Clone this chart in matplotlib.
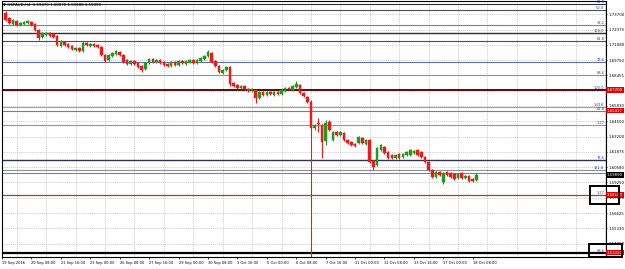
import numpy as np
import matplotlib
matplotlib.use("Agg")
import matplotlib.pyplot as plt
import matplotlib.transforms as mtransforms
from matplotlib.patches import Rectangle

# GBPAUD H4 candles (bar 0 = 19 Sep 00:00 sits off the left edge)
opens = [
    1.7381, 1.7338, 1.7287, 1.7313, 1.7278, 1.7287, 1.7296, 1.7304, 1.7287, 1.7235,
    1.7175, 1.7192, 1.7210, 1.7201, 1.7184, 1.7098, 1.7132, 1.7115, 1.7098, 1.7064,
    1.7081, 1.7055, 1.7124, 1.7098, 1.7115, 1.7107, 1.7089, 1.7021, 1.6978, 1.7012,
    1.7029, 1.7046, 1.7021, 1.6978, 1.6943, 1.6969, 1.6952, 1.6926, 1.6900, 1.6952,
    1.6986, 1.6961, 1.6978, 1.6961, 1.6943, 1.6926, 1.6961, 1.6935, 1.6969, 1.6943,
    1.6961, 1.6978, 1.6952, 1.6969, 1.6986, 1.7012, 1.7038, 1.6969, 1.6926, 1.6866,
    1.6892, 1.6918, 1.6780, 1.6763, 1.6737, 1.6754, 1.6729, 1.6711, 1.6720, 1.6651,
    1.6703, 1.6677, 1.6703, 1.6677, 1.6703, 1.6686, 1.6711, 1.6737, 1.6720, 1.6746,
    1.6763, 1.6694, 1.6660, 1.6617, 1.6394, 1.6437, 1.6419, 1.6282, 1.6445, 1.6290,
    1.6359, 1.6333, 1.6351, 1.6290, 1.6273, 1.6256, 1.6265, 1.6308, 1.6256, 1.6290,
    1.6110, 1.6076, 1.6205, 1.6230, 1.6187, 1.6162, 1.6136, 1.6170, 1.6144, 1.6162,
    1.6162, 1.6179, 1.6205, 1.6187, 1.6144, 1.6102, 1.6033, 1.5973, 1.6016, 1.5930,
    1.6016, 1.6007, 1.5998, 1.5964, 1.6007, 1.5964, 1.5981, 1.5956, 1.5947]
closes = [
    1.7321, 1.7296, 1.7321, 1.7278, 1.7296, 1.7304, 1.7313, 1.7278, 1.7235, 1.7167,
    1.7210, 1.7210, 1.7184, 1.7175, 1.7107, 1.7141, 1.7107, 1.7089, 1.7072, 1.7081,
    1.7055, 1.7124, 1.7107, 1.7115, 1.7098, 1.7089, 1.7021, 1.6969, 1.7021, 1.7038,
    1.7055, 1.7021, 1.6961, 1.6943, 1.6969, 1.6943, 1.6918, 1.6892, 1.6952, 1.6986,
    1.6961, 1.6978, 1.6952, 1.6935, 1.6926, 1.6961, 1.6935, 1.6969, 1.6952, 1.6969,
    1.6978, 1.6952, 1.6978, 1.6995, 1.7012, 1.7046, 1.6961, 1.6926, 1.6875, 1.6892,
    1.6918, 1.6772, 1.6754, 1.6737, 1.6754, 1.6729, 1.6711, 1.6729, 1.6651, 1.6703,
    1.6677, 1.6703, 1.6686, 1.6703, 1.6686, 1.6720, 1.6737, 1.6729, 1.6754, 1.6772,
    1.6694, 1.6668, 1.6617, 1.6394, 1.6419, 1.6428, 1.6273, 1.6437, 1.6376, 1.6359,
    1.6333, 1.6359, 1.6290, 1.6265, 1.6248, 1.6239, 1.6316, 1.6265, 1.6290, 1.6102,
    1.6059, 1.6222, 1.6248, 1.6179, 1.6136, 1.6136, 1.6162, 1.6136, 1.6170, 1.6187,
    1.6205, 1.6196, 1.6162, 1.6144, 1.6102, 1.6033, 1.5973, 1.6016, 1.5990, 1.6007,
    1.5990, 1.5973, 1.5956, 1.5998, 1.5964, 1.5981, 1.5938, 1.5938, 1.5989]
highs = [
    1.7399, 1.7347, 1.7330, 1.7321, 1.7304, 1.7313, 1.7321, 1.7313, 1.7296, 1.7244,
    1.7218, 1.7218, 1.7218, 1.7210, 1.7192, 1.7150, 1.7141, 1.7124, 1.7107, 1.7089,
    1.7089, 1.7141, 1.7132, 1.7124, 1.7124, 1.7115, 1.7098, 1.7029, 1.7029, 1.7046,
    1.7064, 1.7055, 1.7029, 1.6986, 1.6978, 1.6978, 1.6961, 1.6935, 1.6961, 1.6995,
    1.6995, 1.6986, 1.6986, 1.6969, 1.6952, 1.6969, 1.6969, 1.6978, 1.6978, 1.6978,
    1.6986, 1.6986, 1.6986, 1.7003, 1.7021, 1.7064, 1.7046, 1.6978, 1.6935, 1.6900,
    1.6926, 1.6926, 1.6789, 1.6772, 1.6763, 1.6763, 1.6737, 1.6737, 1.6729, 1.6711,
    1.6711, 1.6711, 1.6711, 1.6711, 1.6711, 1.6729, 1.6746, 1.6746, 1.6763, 1.6797,
    1.6772, 1.6703, 1.6668, 1.6634, 1.6428, 1.6479, 1.6428, 1.6462, 1.6462, 1.6368,
    1.6368, 1.6368, 1.6359, 1.6299, 1.6282, 1.6265, 1.6325, 1.6316, 1.6299, 1.6299,
    1.6119, 1.6230, 1.6256, 1.6239, 1.6196, 1.6170, 1.6170, 1.6179, 1.6179, 1.6196,
    1.6213, 1.6205, 1.6213, 1.6196, 1.6153, 1.6110, 1.6041, 1.6024, 1.6024, 1.6016,
    1.6024, 1.6016, 1.6007, 1.6007, 1.6016, 1.5990, 1.5990, 1.5964, 1.6007]
lows = [
    1.7313, 1.7287, 1.7278, 1.7270, 1.7270, 1.7278, 1.7287, 1.7270, 1.7227, 1.7150,
    1.7167, 1.7184, 1.7175, 1.7167, 1.7098, 1.7089, 1.7098, 1.7081, 1.7064, 1.7055,
    1.7046, 1.7046, 1.7098, 1.7089, 1.7089, 1.7081, 1.7012, 1.6961, 1.6969, 1.7003,
    1.7021, 1.7012, 1.6952, 1.6935, 1.6935, 1.6935, 1.6909, 1.6875, 1.6892, 1.6943,
    1.6952, 1.6952, 1.6943, 1.6926, 1.6918, 1.6918, 1.6926, 1.6926, 1.6943, 1.6935,
    1.6952, 1.6943, 1.6943, 1.6961, 1.6978, 1.7003, 1.6952, 1.6918, 1.6866, 1.6857,
    1.6883, 1.6754, 1.6746, 1.6729, 1.6729, 1.6720, 1.6703, 1.6703, 1.6608, 1.6643,
    1.6668, 1.6668, 1.6677, 1.6668, 1.6677, 1.6677, 1.6703, 1.6720, 1.6711, 1.6737,
    1.6686, 1.6660, 1.6608, 1.5000, 1.6376, 1.6359, 1.6136, 1.6248, 1.6368, 1.6282,
    1.6325, 1.6325, 1.6282, 1.6256, 1.6239, 1.6230, 1.6256, 1.6256, 1.6248, 1.6093,
    1.6033, 1.6067, 1.6196, 1.6170, 1.6127, 1.6127, 1.6127, 1.6127, 1.6136, 1.6153,
    1.6153, 1.6170, 1.6153, 1.6136, 1.6093, 1.6024, 1.5964, 1.5964, 1.5981, 1.5913,
    1.5981, 1.5964, 1.5947, 1.5956, 1.5956, 1.5956, 1.5930, 1.5930, 1.5938]

time_labels = ['19 Sep 2016', '20 Sep 08:00', '21 Sep 16:00', '23 Sep 00:00', '26 Sep 08:00',
               '27 Sep 16:00', '29 Sep 00:00', '30 Sep 08:00', '3 Oct 16:00', '5 Oct 00:00',
               '6 Oct 08:00', '7 Oct 16:00', '11 Oct 00:00', '12 Oct 08:00', '13 Oct 16:00',
               '17 Oct 00:00', '18 Oct 08:00']
price_labels = ['1.54000', '1.55330', '1.56625', '1.57920', '1.59250', '1.60580', '1.61875',
                '1.63200', '1.64500', '1.65830', '1.67150', '1.68455', '1.69750', '1.71080',
                '1.72375', '1.73700']

# fibonacci / horizontal levels drawn on the chart
level_prices = [1.7459, 1.7407, 1.7278, 1.7210, 1.7141, 1.6961, 1.6849, 1.6720,
                1.6574, 1.65417, 1.6419, 1.6119, 1.6033, 1.6007, 1.5818, 1.5322]
level_names = ['61.8', '50.0', '38.2', '100.0', '61.8', '78.6', '88.6', '100.0',
               '1.618', '61.8', '1.27', '78.6', '161.8', '', '1.27', '88.6']
level_colors = ['#303030', '#505050', '#808080', '#303040', '#505050', '#6070a0', '#909090', '#5a0a0a',
                '#a0a0a0', '#c06060', '#8a94b0', '#303058', '#909090', '#7080b0', '#a04040', '#000000']
level_widths = [0.8, 0.8, 0.8, 1.0, 0.8, 0.8, 0.8, 1.4, 0.8, 0.8, 0.8, 1.0, 0.8, 0.8, 0.9, 1.6]
red_tags = [1.67200, 1.65417, 1.58180, 1.53220]

opens, closes = np.array(opens), np.array(closes)
highs, lows = np.array(highs), np.array(lows)
x = np.arange(1, len(opens) + 1)

W, H = 625, 269
fig = plt.figure(figsize=(W / 100, H / 100), dpi=100)
ax = fig.add_axes([2 / W, 12 / H, 604 / W, 256 / H])
ax.set_xlim(2 / 3.69, 606 / 3.69)
ax.set_ylim(1.5285, 1.7484)

# grid
tick_vals = [float(s) for s in price_labels]
for v in tick_vals:
    ax.axhline(v, color='#b8b8b8', lw=0.5, ls=(0, (1.5, 1.5)), zorder=0)
for k in range(len(time_labels) + 4):
    ax.axvline(8 * k + 4, color='#b8b8b8', lw=0.5, ls=(0, (1.5, 1.5)), zorder=0)

# levels
blend = mtransforms.blended_transform_factory(ax.transAxes, ax.transData)
for p, name, c, w in zip(level_prices, level_names, level_colors, level_widths):
    ax.axhline(p, color=c, lw=w, zorder=1)
    if name:
        ax.text(0.997, p, name, transform=blend, ha='right', va='bottom',
                fontsize=2.6, color='#3a3aa0', zorder=4)

# candles
up = closes >= opens
colors = np.where(up, '#1f9a1f', '#e81c1c')
ax.vlines(x, lows, highs, colors=colors, lw=0.8, zorder=2)
ax.bar(x, closes - opens, bottom=opens, width=0.7, color=colors,
       edgecolor=colors, linewidth=0.3, zorder=3)

# axes styling
for s in ax.spines.values():
    s.set_color('black')
    s.set_linewidth(0.8)
ax.yaxis.tick_right()
ax.set_yticks(tick_vals)
ax.set_yticklabels(price_labels)
ax.set_xticks(np.arange(len(time_labels)) * 8)
ax.set_xticklabels(time_labels)
for lbl in ax.get_xticklabels():
    lbl.set_ha('left')
ax.tick_params(axis='y', length=1, pad=0.8, labelsize=2.8, width=0.5)
ax.tick_params(axis='x', length=1.5, pad=1.2, labelsize=2.6, width=0.5)

# title
ax.text(0.002, 0.995, f"\u25bc GBPAUD,H4  {opens[-1]:.5f} {highs[-1]:.5f} {lows[-1]:.5f} {closes[-1]:.5f}",
        transform=ax.transAxes, ha='left', va='top', fontsize=2.8, color='black')

# price tags on the right
for p in red_tags:
    ax.text(1.0017, p, f"{p:.5f}", transform=blend, ha='left', va='center', fontsize=2.8,
            color='white', clip_on=False, zorder=6,
            bbox=dict(fc='#e00000', ec='none', pad=0.5))
ax.text(1.0017, closes[-1], f"{closes[-1]:.5f}", transform=blend, ha='left', va='center',
        fontsize=2.8, color='white', clip_on=False, zorder=6,
        bbox=dict(fc='black', ec='none', pad=0.5))

# black boxes around the two lower levels
ax.add_patch(Rectangle((0.9735, red_tags[2] - 0.0077), 0.048, 0.0154, transform=blend,
                       fill=False, ec='black', lw=1.4, clip_on=False, zorder=7))
ax.add_patch(Rectangle((0.972, red_tags[3] - 0.0037), 0.054, 0.0112, transform=blend,
                       fill=False, ec='black', lw=1.4, clip_on=False, zorder=7))

fig.savefig('out.png', dpi=100)
